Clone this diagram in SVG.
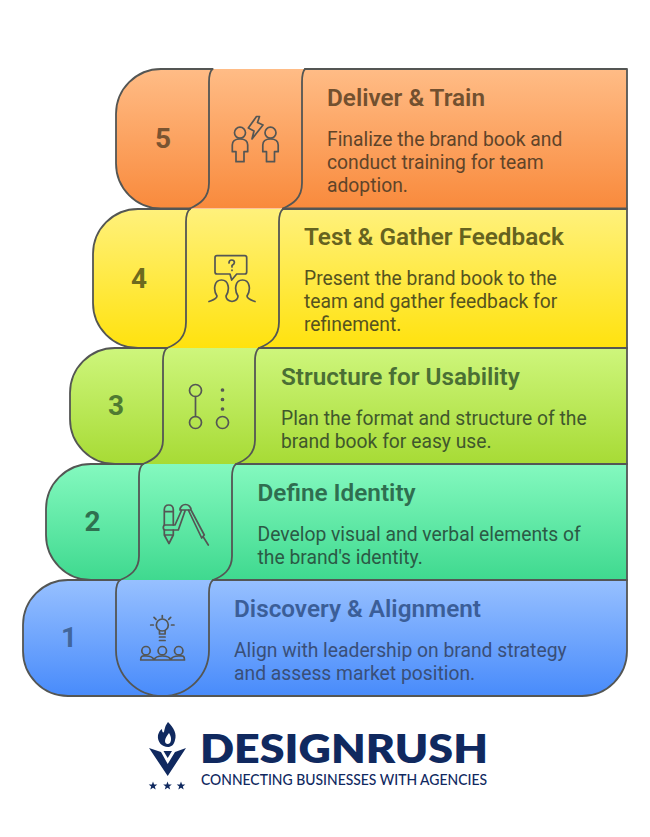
<svg xmlns="http://www.w3.org/2000/svg" width="650" height="837" viewBox="0 0 650 837">
<style>
text{font-family:Roboto,"Liberation Sans",sans-serif}
.t{font-size:24.300px;font-weight:600}
.d{font-size:19.300px;font-weight:400}
.n{font-size:28px;font-weight:700;text-anchor:middle}
.o{fill:none;stroke:#545654;stroke-width:1.8;stroke-linejoin:round;stroke-linecap:round}
.i{fill:none;stroke:#545654;stroke-width:1.7;stroke-linejoin:round;stroke-linecap:round}
.l{fill:#10295f}
</style>
<defs>
<linearGradient id="g5" x1="0" y1="0" x2="0" y2="1"><stop offset="0" stop-color="#FFBC86"/><stop offset="1" stop-color="#F98A3C"/></linearGradient>
<linearGradient id="g4" x1="0" y1="0" x2="0" y2="1"><stop offset="0" stop-color="#FFF17C"/><stop offset="1" stop-color="#FFE20E"/></linearGradient>
<linearGradient id="g3" x1="0" y1="0" x2="0" y2="1"><stop offset="0" stop-color="#CEF67C"/><stop offset="1" stop-color="#A7DB35"/></linearGradient>
<linearGradient id="g2" x1="0" y1="0" x2="0" y2="1"><stop offset="0" stop-color="#84F9BF"/><stop offset="1" stop-color="#3FD98F"/></linearGradient>
<linearGradient id="g1" x1="0" y1="0" x2="0" y2="1"><stop offset="0" stop-color="#97C0FF"/><stop offset="1" stop-color="#488BFB"/></linearGradient>
</defs>

<g id="node-1">
<path d="M68,580H627V651A45,45 0 0 1 582,696H68A45,45 0 0 1 23,651V625A45,45 0 0 1 68,580Z" fill="url(#g1)"/>
<path class="o" d="M120,580H68A45,45 0 0 0 23,625V651A45,45 0 0 0 68,696H582A45,45 0 0 0 627,651V580H213"/>
<path class="o" d="M120,580Q116,583 116,593V650A46.500,46 0 0 0 209,650V593Q209,583 213,580"/>
<text class="n" x="69" y="647" fill="#41669c">1</text>
<text class="t" x="234" y="617" fill="#3b5e98">Discovery &amp; Alignment</text>
<text class="d" x="234" y="656.500" fill="#394f78">Align with leadership on brand strategy</text>
<text class="d" x="234" y="679.500" fill="#394f78">and assess market position.</text>
<g class="i">
<circle cx="162.300" cy="625" r="6"/>
<path d="M159.500,630.500V634H165.100V630.500M159.500,637H165.100M159.500,640.500H165.100M162.300,615.500V618M150.700,625H153.300M171.500,625H174M154,617.300L156,619.300M170.700,617.300L168.700,619.300"/>
<circle cx="146" cy="650.700" r="4.200"/><circle cx="162.300" cy="650.700" r="4.200"/><circle cx="178.700" cy="650.700" r="4.200"/>
<path d="M140.700,660C140.700,655 143,656 146,656C150,656 153,657 154,660C155,657 158,656 162.300,656C167,656 170,657 170.700,660C171.500,657 175,656 178.700,656C182,656 184.500,655 184.500,660ZM154,660H170.700"/>
</g>
</g>

<g id="node-2">
<path d="M91,464H627V580H91A45,45 0 0 1 46,535V509A45,45 0 0 1 91,464Z" fill="url(#g2)"/>
<path class="o" d="M143,464H91A45,45 0 0 0 46,509V535A45,45 0 0 0 91,580H120M213,580H627V464H236"/>
<path class="o" d="M143,464Q139,467 139,477V556C139,570 130,576 120,580M236,464Q232,467 232,477V556C232,570 223,576 213,580"/>
<text class="n" x="92.500" y="531" fill="#2f7050">2</text>
<text class="t" x="257.500" y="501" fill="#2f6e50">Define Identity</text>
<text class="d" x="257.500" y="540.500" fill="#2b5a45">Develop visual and verbal elements of</text>
<text class="d" x="257.500" y="563.500" fill="#2b5a45">the brand's identity.</text>
<g class="i">
<path d="M164.300,525V510Q164.300,505 168.800,505Q173.300,505 173.300,510V525M164.300,511.700H173.300M164.300,530V535L169,543.500L173.300,535V530M164.300,535H173.300"/>
<path d="M180,510A5.500,5.500 0 0 1 191,510ZM181.700,510L175,525H165.500Q163.300,525 163.300,527.500Q163.300,530 165.500,530H178.300L185,511M188.300,510L201.700,538L204.300,535L191,510M203.300,537L208.300,545"/>
</g>
</g>

<g id="node-3">
<path d="M115,348H627V464H115A45,45 0 0 1 70,419V393A45,45 0 0 1 115,348Z" fill="url(#g3)"/>
<path class="o" d="M167,348H115A45,45 0 0 0 70,393V419A45,45 0 0 0 115,464H143M236,464H627V348H259"/>
<path class="o" d="M167,348Q163,351 163,361V440C163,454 153,460 143,464M259,348Q255,351 255,361V440C255,454 246,460 236,464"/>
<text class="n" x="116" y="415" fill="#4f7a32">3</text>
<text class="t" x="281" y="385" fill="#4a6f34">Structure for Usability</text>
<text class="d" x="281" y="424.500" fill="#40582c">Plan the format and structure of the</text>
<text class="d" x="281" y="447.500" fill="#40582c">brand book for easy use.</text>
<g class="i">
<circle cx="195.500" cy="390.500" r="6"/><circle cx="195.500" cy="422.500" r="6"/><path d="M195.500,396.500V416.500"/>
<circle cx="222.500" cy="422.500" r="6"/>
<circle cx="222.500" cy="390" r="1"/><circle cx="222.500" cy="399.500" r="1"/><circle cx="222.500" cy="409" r="1"/>
</g>
</g>

<g id="node-4">
<path d="M138,209H627V348H138A45,45 0 0 1 93,303V254A45,45 0 0 1 138,209Z" fill="url(#g4)"/>
<path class="o" d="M190,209H138A45,45 0 0 0 93,254V303A45,45 0 0 0 138,348H167M259,348H627V209H283"/>
<path class="o" d="M190,209Q186,212 186,222V322C186,338 177,344 167,348M283,209Q279,212 279,222V322C279,338 269,344 259,348"/>
<text class="n" x="139" y="288" fill="#6e6a1e">4</text>
<text class="t" x="304" y="245" fill="#66631f">Test &amp; Gather Feedback</text>
<text class="d" x="304" y="284.500" fill="#55531f">Present the brand book to the</text>
<text class="d" x="304" y="307.500" fill="#55531f">team and gather feedback for</text>
<text class="d" x="304" y="330.500" fill="#55531f">refinement.</text>
<g class="i">
<path d="M217,255.700H244.700Q246.700,255.700 246.700,257.700V272Q246.700,274 244.700,274H236.700L231.700,280L230,274H217Q215,274 215,272V257.700Q215,255.700 217,255.700Z"/>
<path d="M229,263Q229,260 231.700,260Q234.400,260 234.400,262.500Q234.400,264 232,265.500V267M232,270V270.500"/>
<path d="M209,301.500C213,300 217,299 217,296C213,290 214,280 221.500,280C229,280 230,290 226,296C226,300 229,301 232,301.500C235,301 238,300 238,296C234,290 235,280 242.500,280C250,280 251,290 247,296C247,299 251,300 255,301.500"/>
</g>
</g>

<g id="node-5">
<path d="M161,69H627V208.500H161A45,45 0 0 1 116,163.500V114A45,45 0 0 1 161,69Z" fill="url(#g5)"/>
<path class="o" d="M212.500,69H161A45,45 0 0 0 116,114V163.500A45,45 0 0 0 161,208.500H190M283,208.500H627V69H305"/>
<path class="o" d="M212.500,69Q209,72 209,82V183C209,198 200,204 190,208.500M305,69Q302,72 302,82V183C302,198 293,204 283,208.500"/>
<text class="n" x="163" y="148" fill="#7a5431">5</text>
<text class="t" x="327" y="106" fill="#72502f">Deliver &amp; Train</text>
<text class="d" x="327" y="145.500" fill="#5f4429">Finalize the brand book and</text>
<text class="d" x="327" y="168.500" fill="#5f4429">conduct training for team</text>
<text class="d" x="327" y="191.500" fill="#5f4429">adoption.</text>
<g class="i">
<circle cx="240" cy="132.700" r="5.500"/><circle cx="270.500" cy="132.700" r="5.500"/>
<path d="M236,161.700H244V151.700H247.700V145Q247.700,139 240,139Q232.300,139 232.300,145V151.700H236Z"/>
<path d="M266.500,161.700H274.500V151.700H278.200V145Q278.200,139 270.500,139Q262.800,139 262.800,145V151.700H266.500Z"/>
<path d="M256.500,116.500L248.300,128L254,131L252,139L263,125L257.500,122.500L259.500,116.500Z"/>
</g>
</g>

<g id="logo">
<path class="l" d="M149,748L161,752L167.700,764L175,752L186,748L167.700,776Z"/>
<path class="l" d="M163.500,751H172L167.700,758Z"/>
<path class="l" fill-rule="evenodd" d="M168,722C174,728 177,734 175,740C174,745 171,747 168,747C162,747 157,742 158,735C159,732 160,730 162,729C162,732 163,733 164,732C165,728 165,726 168,722ZM169,733C167,736 165,738 165,741C165,744 168,745 170,743C172,740 171,736 169,733Z"/>
<path class="l" d="M153,781.500L154.100,784.500H157.300L154.800,786.500L155.700,789.600L153,787.800L150.300,789.600L151.200,786.500L148.700,784.500H151.900Z"/>
<path class="l" d="M167.500,781.500L168.600,784.500H171.800L169.300,786.500L170.200,789.600L167.500,787.800L164.800,789.600L165.700,786.500L163.200,784.500H166.400Z"/>
<path class="l" d="M181,781.500L182.100,784.500H185.300L182.800,786.500L183.700,789.600L181,787.800L178.300,789.600L179.200,786.500L176.700,784.500H179.900Z"/>
<text x="200" y="763" class="l" font-size="40" font-weight="800" style="font-family:Lato,sans-serif" textLength="288" lengthAdjust="spacingAndGlyphs">DESIGNRUSH</text>
<text x="201" y="785" class="l" font-size="15" font-weight="500" style="font-family:Lato,sans-serif" textLength="286" lengthAdjust="spacingAndGlyphs">CONNECTING BUSINESSES WITH AGENCIES</text>
</g>
</svg>
